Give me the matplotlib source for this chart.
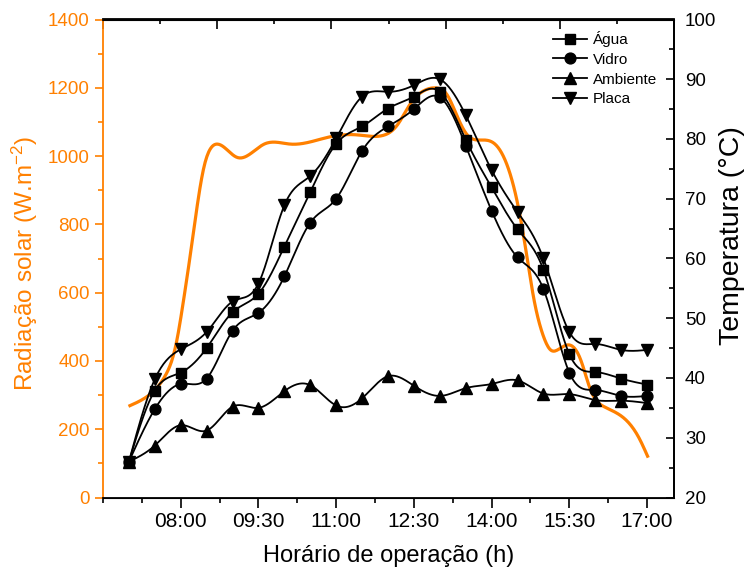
import numpy as np
import matplotlib
matplotlib.use('Agg')
import matplotlib.pyplot as plt
from matplotlib.ticker import FixedLocator, FuncFormatter, MultipleLocator
from matplotlib.lines import Line2D

plt.rcParams['font.family'] = ['Liberation Sans', 'DejaVu Sans']
plt.rcParams['mathtext.default'] = 'regular'

LARANJA = '#FF8000'

# horarios das medidas de temperatura
horas = ['07:00', '07:30', '08:00', '08:30', '09:00', '09:30', '10:00',
         '10:30', '11:00', '11:30', '12:00', '12:30', '13:00', '13:30',
         '14:00', '14:30', '15:00', '15:30', '16:00', '16:30', '17:00']

agua = [26.0, 37.9, 40.9, 45.0, 51.0, 54.1, 62.0, 71.1, 79.2, 82.1, 85.1,
        87.1, 87.9, 79.9, 71.9, 64.9, 58.1, 44.0, 41.0, 39.9, 38.9]
vidro = [26.0, 34.8, 39.0, 39.9, 47.9, 50.9, 57.0, 66.0, 70.0, 78.0, 82.1,
         85.0, 87.0, 78.9, 68.0, 60.2, 54.9, 40.9, 38.0, 37.0, 37.0]
ambiente = [26.0, 28.7, 32.1, 31.2, 35.2, 35.0, 37.8, 38.8, 35.4, 36.6, 40.3,
            38.7, 37.0, 38.3, 39.0, 39.6, 37.4, 37.3, 36.3, 36.2, 35.8]
placa = [26.0, 39.8, 44.8, 47.7, 52.8, 55.8, 68.9, 73.8, 80.1, 87.1, 87.9,
         89.0, 90.0, 84.0, 74.8, 67.8, 60.0, 47.7, 45.7, 44.7, 44.7]

# radiacao solar (curva)
rad_t = [7.02, 7.39, 7.71, 7.90, 8.06, 8.19, 8.45, 8.58, 8.69, 9.09, 9.61,
         10.12, 10.90, 11.41, 11.86, 12.18, 12.44, 12.70, 12.96, 13.12,
         13.34, 13.53, 13.79, 14.05, 14.31, 14.50, 14.63, 14.82, 14.98,
         15.14, 15.27, 15.48, 15.72, 15.91, 16.17, 16.49, 16.85, 17.01]
rad_v = [269, 300, 359, 442, 583, 716, 969, 1023, 1035, 996, 1035,
         1035, 1057, 1062, 1059, 1091, 1155, 1192, 1199, 1184,
         1115, 1062, 1047, 1037, 969, 862, 754, 578, 481,
         432, 432, 447, 403, 315, 266, 240, 173, 121]

xticks = ['08:00', '09:30', '11:00', '12:30', '14:00', '15:30', '17:00']


def h2f(s):
    hh, mm = s.split(':')
    return int(hh) + int(mm) / 60.0


def spline(x, y, n=600):
    # spline cubica natural, como a ligacao "spline" do Origin
    x = np.asarray(x, float)
    y = np.asarray(y, float)
    m = len(x)
    h = np.diff(x)
    A = np.zeros((m, m))
    b = np.zeros(m)
    A[0, 0] = A[-1, -1] = 1
    for i in range(1, m - 1):
        A[i, i - 1] = h[i - 1]
        A[i, i] = 2 * (h[i - 1] + h[i])
        A[i, i + 1] = h[i]
        b[i] = 3 * ((y[i + 1] - y[i]) / h[i] - (y[i] - y[i - 1]) / h[i - 1])
    c = np.linalg.solve(A, b)
    bb = (y[1:] - y[:-1]) / h - h * (2 * c[:-1] + c[1:]) / 3
    d = (c[1:] - c[:-1]) / (3 * h)
    xs = np.linspace(x[0], x[-1], n)
    k = np.clip(np.searchsorted(x, xs) - 1, 0, m - 2)
    dx = xs - x[k]
    return xs, y[k] + bb[k] * dx + c[k] * dx ** 2 + d[k] * dx ** 3


t = [h2f(s) for s in horas]

fig = plt.figure(figsize=(7.47, 5.76), dpi=100)
ax = fig.add_axes([103 / 747, 1 - 497.5 / 576, 571 / 747, 478 / 576])
ax2 = ax.twinx()

# radiacao
xs, ys = spline(rad_t, rad_v)
ax.plot(xs, ys, color=LARANJA, lw=2.3, zorder=2)
ax.set_ylim(0, 1400)
ax.set_xlim(6.5, 17.52)
ax.yaxis.set_major_locator(MultipleLocator(200))
ax.yaxis.set_minor_locator(MultipleLocator(100))
ax.set_ylabel('Radiação solar (W.m$^{-2}$)', color=LARANJA, fontsize=17.5)
ax.yaxis.set_label_coords((40 - 103) / 571, 0.49)
ax.tick_params(axis='y', which='both', colors=LARANJA, labelsize=13.5, direction='out', width=1.2)
ax.tick_params(axis='y', which='major', length=6)
ax.tick_params(axis='y', which='minor', length=3.5)
ax.spines['left'].set_color(LARANJA)
ax.spines['left'].set_linewidth(1.3)

ax.xaxis.set_major_locator(FixedLocator([h2f(s) for s in xticks]))
ax.xaxis.set_minor_locator(FixedLocator(6.5 + 0.75 * np.arange(15)))
ax.xaxis.set_major_formatter(FuncFormatter(lambda v, p: '%02d:%02d' % (int(v), round((v % 1) * 60))))
ax.tick_params(axis='x', which='both', direction='out', labelsize=15, width=1.2)
ax.tick_params(axis='x', which='major', length=7)
ax.tick_params(axis='x', which='minor', length=3.5)
ax.set_xlabel('Horário de operação (h)', fontsize=17, labelpad=10)
for s in ['top', 'bottom', 'right']:
    ax.spines[s].set_linewidth(1.3)

# eixo de cima, so tracos
top = ax.secondary_xaxis('top', functions=(lambda v: (v - 6.5) / (17.52 - 6.5) * 10,
                                           lambda v: 6.5 + v / 10 * (17.52 - 6.5)))
top.xaxis.set_major_locator(MultipleLocator(2))
top.xaxis.set_minor_locator(MultipleLocator(1))
top.tick_params(axis='x', which='both', direction='in', labeltop=False, width=1.2)
top.tick_params(axis='x', which='major', length=7)
top.tick_params(axis='x', which='minor', length=3.5)
top.spines['top'].set_linewidth(1.3)

# temperaturas
series = [(agua, 's', 7, 'Água'), (vidro, 'o', 7.8, 'Vidro'),
          (ambiente, '^', 8.5, 'Ambiente'), (placa, 'v', 8.5, 'Placa')]
handles = []
for vals, mk, ms, nome in series:
    xs, ys = spline(t, vals)
    ax2.plot(xs, ys, color='black', lw=1.3, zorder=3)
    ax2.plot(t, vals, ls='none', marker=mk, ms=ms, color='black', zorder=4)
    handles.append(Line2D([], [], color='black', lw=1.3, marker=mk, ms=ms, label=nome))

ax2.set_ylim(20, 100)
ax2.yaxis.set_major_locator(MultipleLocator(10))
ax2.yaxis.set_minor_locator(MultipleLocator(5))
ax2.tick_params(axis='y', which='both', direction='in', labelsize=13.5, width=1.2, pad=8)
ax2.tick_params(axis='y', which='major', length=6)
ax2.tick_params(axis='y', which='minor', length=3.5)
ax2.set_ylabel('Temperatura (°C)', fontsize=20.5)
ax2.yaxis.set_label_coords((719 - 103) / 571, 0.547)
ax2.spines['left'].set_visible(False)
ax2.spines['right'].set_linewidth(1.3)

ax2.legend(handles=handles, loc='upper left', bbox_to_anchor=(553 / 747, 1 - 31 / 576),
           bbox_transform=fig.transFigure, frameon=False, fontsize=11, borderpad=0,
           borderaxespad=0, handlelength=2.2, handletextpad=0.4, labelspacing=0.38)

fig.savefig('out.png', dpi=100)
